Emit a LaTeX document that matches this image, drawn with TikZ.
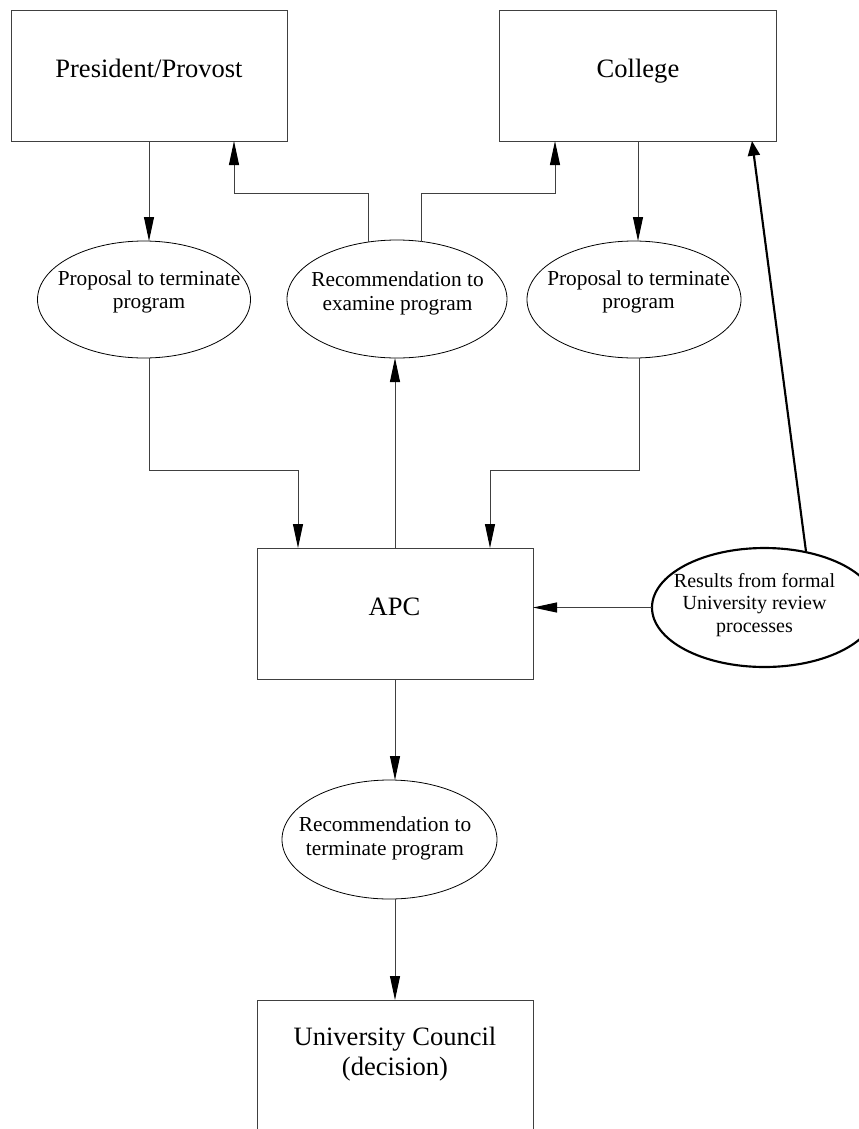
\documentclass[tikz,border=0pt]{standalone}
\usepackage{fontspec}
\setmainfont{Liberation Serif}
\usetikzlibrary{arrows.meta,shapes.geometric,calc}
\newcommand\bigf{\fontsize{19.9pt}{22.5pt}\selectfont}
\newcommand\smallf{\fontsize{16pt}{17.4pt}\selectfont}
\newcommand\resf{\fontsize{15pt}{16.9pt}\selectfont}
\tikzset{
  box/.style={draw=black!75, line width=0.75pt, rectangle, inner sep=0pt, outer sep=0pt,
    minimum width=207pt, minimum height=98.25pt},
  oval/.style={draw=black, line width=0.6pt, ellipse, inner sep=0pt, outer sep=0pt, fill=white},
  bigtxt/.style={inner sep=0pt, font=\bigf, align=center},
  smalltxt/.style={inner sep=0pt, font=\smallf, align=center},
  restxt/.style={inner sep=0pt, font=\resf, align=center},
  arr/.style={draw=black!75, line width=0.75pt, -{Triangle[length=18pt,width=7.5pt,black]}},
  thickarr/.style={draw=black, line width=1.6pt, -{Triangle[length=11pt,width=9pt]}}
}
\begin{document}
\begin{tikzpicture}[x=0.75pt,y=-0.75pt]
\useasboundingbox (0,0) rectangle (859,1129);
% boxes
\node[box] (pres) at (149,75.5) {};
\node[box, minimum width=207.75pt] (coll) at (638,75.5) {};
\node[box] (apc) at (395,613.5) {};
\node[box, minimum height=150pt] (uc) at (395,1100) {};
% ellipses
\node[oval, minimum width=159.75pt, minimum height=87.75pt] (e1) at (144,299.5) {};
\node[oval, minimum width=165pt, minimum height=88.5pt] (e2) at (397,299) {};
\node[oval, minimum width=160.5pt, minimum height=87.75pt] (e3) at (634,299.5) {};
\node[oval, minimum width=161.25pt, minimum height=89.25pt] (rec) at (389.5,839.5) {};
\node[oval, line width=1.6pt, minimum width=168.75pt, minimum height=89.25pt] (res) at (764.5,607.5) {};
% texts
\node[bigtxt, anchor=base] (presT) at (149,77) {President/Provost};
\node[bigtxt, anchor=base] (collT) at (638,77) {College};
\node[bigtxt, anchor=base] (apcT) at (394.5,615) {APC};
\node[bigtxt] (ucT) at (395,1054) {University Council\\(decision)};
\node[smalltxt] (e1T) at (149,291.5) {Proposal to terminate\\program};
\node[smalltxt] (e2T) at (397.5,293.4) {Recommendation to\\examine program};
\node[smalltxt] (e3T) at (638.5,291.5) {Proposal to terminate\\program};
\node[smalltxt] (recT) at (385,838.4) {Recommendation to\\terminate program};
\node[restxt] (resT) at (754.5,604.8) {Results from formal\\University review\\processes};
% connectors
\draw[arr] (pres.south) -- (pres.south |- e1.north);
\draw[arr] ($(e2.north)+(-29,2.1)$) |- ($(pres.south)+(85,52)$) -- ($(pres.south)+(85,0)$);
\draw[arr] ($(e2.north)+(24,1.5)$) |- ($(coll.south)+(-83,52)$) -- ($(coll.south)+(-83,0)$);
\draw[arr] (coll.south) -- (coll.south |- e3.north);
\draw[arr] ($(e1.south)+(5,0)$) |- ($(apc.north)+(-97,-78)$) -- ($(apc.north)+(-97,0)$);
\draw[arr] ($(e3.south)+(5,0)$) |- ($(apc.north)+(95,-78)$) -- ($(apc.north)+(95,0)$);
\draw[arr] (apc.north) -- (apc.north |- e2.south);
\draw[arr] (apc.south) -- (apc.south |- rec.north);
\draw[arr] (rec.south -| uc.north) -- (uc.north);
\draw[arr] (res.west) -- (res.west -| apc.east);
\draw[thickarr] ($(res.north)+(41.5,3.5)$) -- ($(coll.south)+(114,0)$);
\end{tikzpicture}
\end{document}
